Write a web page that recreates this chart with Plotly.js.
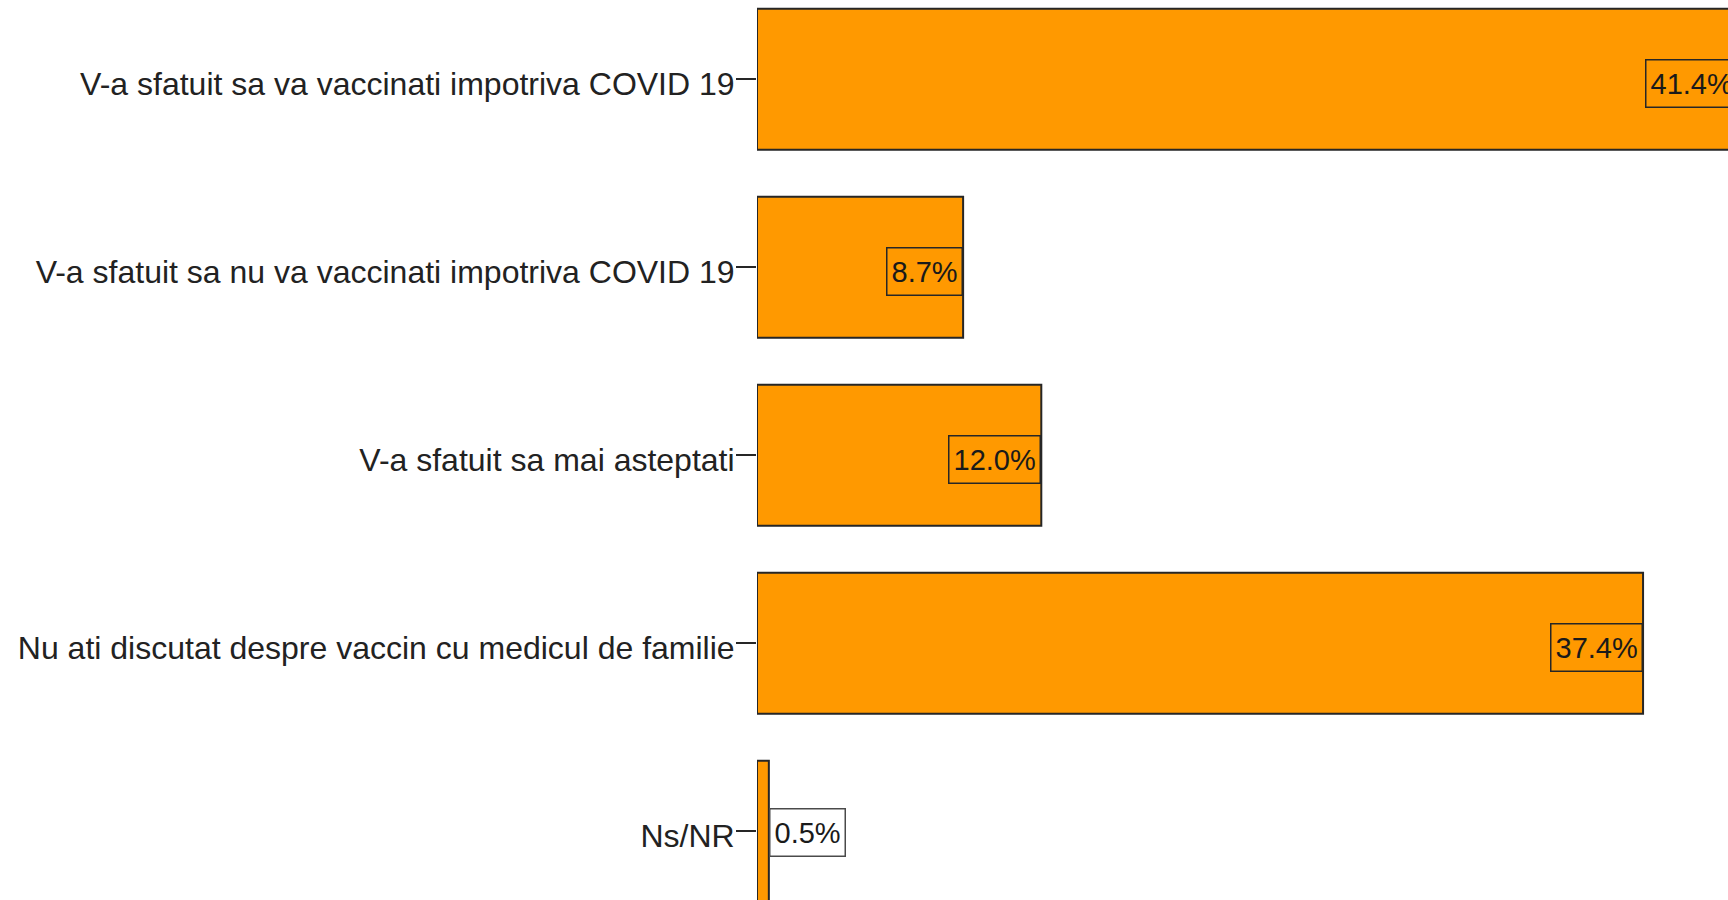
<!DOCTYPE html>
<html>
<head>
<meta charset="utf-8">
<script src="https://cdn.plot.ly/plotly-3.0.1.min.js"></script>
<style>
  html, body { margin: 0; padding: 0; background: #fff; overflow: hidden; }
  #wrap { width: 1728px; height: 900px; overflow: hidden; position: relative; }
  #plot { width: 1780px; height: 900px; }
</style>
</head>
<body>
<div id="wrap"><div id="plot"></div></div>
<script>
// Categorii (de sus in jos)
const categorii = [
  'V-a sfatuit sa va vaccinati impotriva COVID 19',
  'V-a sfatuit sa nu va vaccinati impotriva COVID 19',
  'V-a sfatuit sa mai asteptati',
  'Nu ati discutat despre vaccin cu medicul de familie',
  'Ns/NR'
];

// Procente
const procente = [41.4, 8.7, 12.0, 37.4, 0.5];

// Etichete afisate
const etichete = ['41.4%', '8.7%', '12.0%', '37.4%', '0.5%'];

const fontFam = 'Liberation Sans, Arial, sans-serif';

const trace = {
  type: 'bar',
  orientation: 'h',
  x: procente,
  y: categorii,
  marker: { color: '#ff9900', line: { color: '#262626', width: 2 } },
  hoverinfo: 'none'
};

// Etichetele in casute: in interiorul barei daca e loc, altfel in afara
const adnotari = procente.map((v, i) => {
  const inside = v >= 2;
  return {
    x: v,
    y: categorii[i],
    xref: 'x',
    yref: 'y',
    text: etichete[i],
    showarrow: false,
    xanchor: inside ? 'right' : 'left',
    yanchor: 'middle',
    yshift: inside ? -4 : -1,
    height: 38,
    valign: 'middle',
    font: { family: fontFam, size: 29, color: '#1a1a1a' },
    bgcolor: inside ? 'rgba(0,0,0,0)' : '#ffffff',
    bordercolor: inside ? '#262626' : '#4a4a4a',
    borderwidth: 1.5,
    borderpad: 4
  };
});

const layout = {
  width: 1780,
  height: 900,
  margin: { l: 757, r: 0, t: 0, b: 0 },
  paper_bgcolor: '#ffffff',
  plot_bgcolor: '#ffffff',
  showlegend: false,
  bargap: 0.25,
  xaxis: {
    range: [0, 43.18],
    visible: false,
    fixedrange: true
  },
  yaxis: {
    type: 'category',
    categoryorder: 'array',
    categoryarray: categorii,
    range: [4.365, -0.422],
    showgrid: false,
    zeroline: false,
    showline: false,
    ticks: 'outside',
    ticklen: 20,
    tickwidth: 2,
    tickcolor: '#262626',
    ticklabelstandoff: -5,
    ticklabelshift: -4,
    tickfont: { family: fontFam, size: 32, color: '#222222' },
    fixedrange: true
  },
  annotations: adnotari
};

Plotly.newPlot('plot', [trace], layout, { displayModeBar: false, staticPlot: true });
</script>
</body>
</html>
